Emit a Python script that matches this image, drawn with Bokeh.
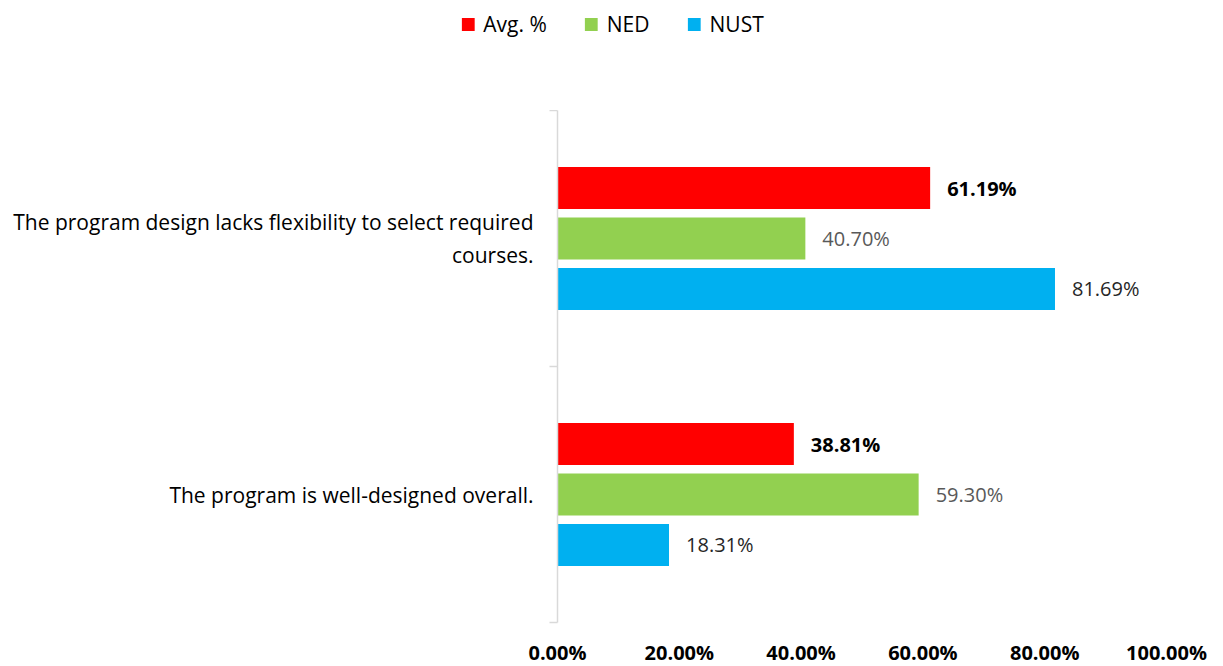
from bokeh.plotting import figure
from bokeh.layouts import column
from bokeh.models import (ColumnDataSource, Range1d, LinearAxis,
                          FixedTicker, SingleIntervalTicker,
                          NumeralTickFormatter, Legend, LegendItem)
from bokeh.core.properties import value
from bokeh.embed import file_html
from bokeh.resources import INLINE

# Survey statements (top to bottom) and the share agreeing with each
statements = [
    "The program design lacks flexibility to select required\ncourses.",
    "The program is well-designed overall.",
]
series = ["Avg. %", "NED", "NUST"]
avg_pct = [0.6119, 0.3881]
ned_pct = [0.4070, 0.5930]
nust_pct = [0.8169, 0.1831]

colors = ["#FF0000", "#92D050", "#00B0F0"]
label_colors = ["#000000", "#595959", "#262626"]
label_styles = ["bold", "normal", "normal"]
offsets = [0.197, 0.0, -0.197]
BAR_H = 0.164

FONT = "Open Sans"
n = len(statements)
# each statement owns one unit slot on the y scale, first one on top
slot_centers = [n - i - 0.5 for i in range(n)]

p = figure(width=1223, height=556,
           frame_width=609, frame_height=512,
           y_range=Range1d(0, n), x_range=Range1d(0, 1),
           output_backend="svg", toolbar_location=None,
           x_axis_type=None, y_axis_type=None,
           min_border_left=557, min_border_right=57,
           min_border_top=0, min_border_bottom=44)
p.frame_align = False
p.outline_line_color = None
p.background_fill_color = "white"
p.border_fill_color = "white"

# x axis: percentages with bold labels, no visible line
xticker = SingleIntervalTicker(interval=0.2, num_minor_ticks=5)
xaxis = LinearAxis(ticker=xticker, formatter=NumeralTickFormatter(format="0.00%"))
xaxis.axis_line_color = None
xaxis.major_tick_line_color = None
xaxis.minor_tick_line_color = None
xaxis.major_tick_out = 0
xaxis.minor_tick_out = 0
xaxis.major_label_standoff = 16
xaxis.major_label_text_font = FONT
xaxis.major_label_text_font_style = "bold"
xaxis.major_label_text_font_size = "20px"
xaxis.major_label_text_color = "#000000"
p.add_layout(xaxis, "below")

p.xgrid.ticker = xticker
p.xgrid.grid_line_color = "#D9D9D9"
p.xgrid.grid_line_width = 1.3
p.xgrid.minor_grid_line_color = "#F0F0F0"
p.xgrid.minor_grid_line_width = 1.3
p.ygrid.grid_line_color = None

# y axis: statement names in their slot, ticks on the slot boundaries
yaxis = LinearAxis(
    ticker=FixedTicker(ticks=slot_centers, minor_ticks=list(range(n + 1))),
    major_label_overrides={c: s for c, s in zip(slot_centers, statements)})
yaxis.axis_line_color = "#D9D9D9"
yaxis.axis_line_width = 1.5
yaxis.major_tick_line_color = None
yaxis.minor_tick_line_color = "#D9D9D9"
yaxis.minor_tick_line_width = 1.5
yaxis.minor_tick_out = 8
yaxis.minor_tick_in = 0
yaxis.major_label_standoff = 16
yaxis.major_label_text_font = FONT
yaxis.major_label_text_font_size = "21px"
yaxis.major_label_text_color = "#000000"
yaxis.major_label_orientation = "horizontal"
p.add_layout(yaxis, "left")

values_by_series = [avg_pct, ned_pct, nust_pct]
for vals, col, lcol, lstyle, off in zip(values_by_series, colors,
                                         label_colors, label_styles, offsets):
    src = ColumnDataSource(dict(
        y=[c + off for c in slot_centers],
        val=vals,
        txt=[f"{v * 100:.2f}%" for v in vals],
    ))
    p.hbar(y="y", right="val", left=0, height=BAR_H, source=src,
           fill_color=col, line_color=None)
    p.text(x="val", y="y", text="txt", source=src,
           x_offset=17, text_align="left", text_baseline="middle",
           text_font=value(FONT), text_font_size="20px",
           text_font_style=lstyle, text_color=lcol)

# header strip holding the series legend (proxy swatches sit below its view)
head = figure(width=1223, height=110, x_range=Range1d(0, 1), y_range=Range1d(0, 1),
              output_backend="svg", toolbar_location=None,
              x_axis_type=None, y_axis_type=None,
              min_border=0)
head.frame_align = False
head.outline_line_color = None
head.xgrid.grid_line_color = None
head.ygrid.grid_line_color = None
items = []
for name, col in zip(series, colors):
    swatch = head.hbar(y=[-5], right=[0.5], left=0, height=1,
                       fill_color=col, line_color=None)
    items.append(LegendItem(label=name, renderers=[swatch]))

legend = Legend(items=items, orientation="horizontal", location="top_center")
legend.label_text_font = FONT
legend.label_text_font_size = "21px"
legend.label_text_color = "#000000"
legend.label_height = 16
legend.glyph_width = 16
legend.glyph_height = 16
legend.spacing = 36
legend.label_standoff = 8
legend.border_line_color = None
legend.background_fill_alpha = 0
legend.margin = 10
legend.padding = 0
head.add_layout(legend, "center")

page = column(head, p, spacing=0)
open("out.html", "w").write(file_html(page, INLINE))
